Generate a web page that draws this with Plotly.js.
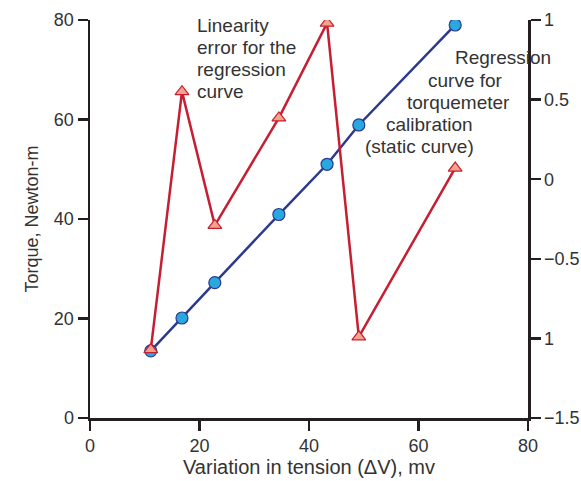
<!DOCTYPE html>
<html>
<head>
<meta charset="utf-8">
<script src="https://cdn.plot.ly/plotly-3.0.1.min.js"></script>
<style>html,body{margin:0;padding:0;background:#fff;}#chart{width:581px;height:481px;}</style>
</head>
<body>
<div id="chart"></div>
<script>
var voltage = [11.1, 16.8, 22.8, 34.5, 43.3, 49.1, 66.7];
var torque = [13.5, 20.1, 27.2, 40.9, 51.0, 58.9, 79.0];
var linearityError = [-1.07, 0.55, -0.29, 0.385, 0.98, -0.99, 0.07];
var xTicks = [0, 20, 40, 60, 80];
var yTicks = [0, 20, 40, 60, 80];
var y2Ticks = [-1.5, -1, -0.5, 0, 0.5, 1];
var y2TickText = ['\u22121.5', '1', '\u22120.5', '0', '0.5', '1'];

var ink = '#231f20';
var txt = '#333333';
var fontFam = 'Liberation Sans, Arial, sans-serif';

var traces = [
  {
    x: voltage, y: torque, type: 'scatter', mode: 'lines+markers',
    line: {color: '#2b3a8f', width: 2.5},
    marker: {symbol: 'circle', size: 12, color: '#29a8e0', line: {color: '#2b3a8f', width: 1.2}},
    hoverinfo: 'skip'
  },
  {
    x: voltage, y: linearityError, type: 'scatter', mode: 'lines+markers', yaxis: 'y2',
    line: {color: '#c61f33', width: 2.5},
    marker: {symbol: 'triangle-up', size: 12, color: '#f5a28c', line: {color: '#c61f33', width: 1.2}},
    hoverinfo: 'skip'
  }
];

function px2x(p) { return (p - 90) / 438; }
function py2y(p) { return (418 - p) / 398; }
function ann(text, px, py) {
  return {text: text, x: px2x(px), y: py2y(py), xref: 'paper', yref: 'paper', showarrow: false,
    xanchor: 'left', yanchor: 'middle', align: 'left',
    font: {family: fontFam, size: 19, color: txt}};
}

var layout = {
  width: 581, height: 481,
  margin: {l: 90, r: 53, t: 20, b: 63},
  paper_bgcolor: '#ffffff', plot_bgcolor: '#ffffff',
  showlegend: false,
  font: {family: fontFam, size: 18, color: txt},
  xaxis: {
    range: [0, 80], tickvals: xTicks, ticks: 'outside', ticklen: 10, tickwidth: 2.5, tickcolor: ink,
    showline: true, linewidth: 2.5, linecolor: ink, showgrid: false, zeroline: false,
    tickfont: {family: fontFam, size: 18, color: txt},
    title: {text: 'Variation in tension (\u0394V), mv', font: {family: fontFam, size: 20, color: txt}, standoff: 4}
  },
  yaxis: {
    range: [0, 80], tickvals: yTicks, ticks: 'outside', ticklen: 10, tickwidth: 2.5, tickcolor: ink,
    showline: true, linewidth: 2.5, linecolor: ink, showgrid: false, zeroline: false,
    tickfont: {family: fontFam, size: 18, color: txt},
    title: {text: 'Torque, Newton-m', font: {family: fontFam, size: 18, color: txt}, standoff: 11}
  },
  yaxis2: {
    range: [-1.5, 1], overlaying: 'y', side: 'right', anchor: 'x',
    tickvals: y2Ticks, ticktext: y2TickText, ticks: 'outside', ticklen: 10, tickwidth: 2.5, tickcolor: ink,
    showline: true, linewidth: 2.5, linecolor: ink, showgrid: false, zeroline: false,
    tickfont: {family: fontFam, size: 18, color: txt}
  },
  annotations: [
    ann('Linearity', 195, 25),
    ann('error for the', 195, 47),
    ann('regression', 195, 69),
    ann('curve', 195, 91),
    ann('Regression', 453, 58),
    ann('curve for', 426, 80),
    ann('torquemeter', 405, 102),
    ann('calibration', 384, 124),
    ann('(static curve)', 363, 146)
  ]
};

Plotly.newPlot('chart', traces, layout, {displayModeBar: false, staticPlot: true});
</script>
</body>
</html>
